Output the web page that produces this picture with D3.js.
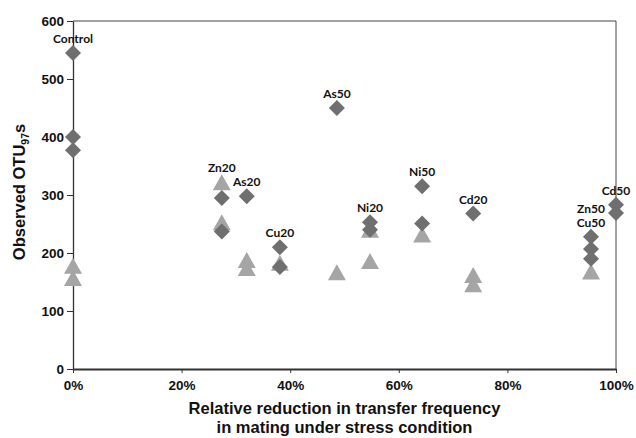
<!DOCTYPE html>
<html>
<head>
<meta charset="utf-8">
<script src="https://cdn.jsdelivr.net/npm/d3@7"></script>
<style>
  body { margin: 0; background: #fff; }
  svg { display: block; }
  .tick text { font-family: "Liberation Sans", Arial, sans-serif; font-weight: bold; font-size: 13.5px; fill: #111; }
  .tag { font-family: Lato, "Open Sans", sans-serif; font-weight: bold; font-size: 12px; fill: #111; }
  .title { font-family: "Liberation Sans", Arial, sans-serif; font-weight: bold; font-size: 16.5px; fill: #111; }
</style>
</head>
<body>
<div id="chart"></div>
<script>
// relative reduction (fraction) and observed OTU97s
var diamondX = [0, 0, 0, 0.274, 0.274, 0.32, 0.381, 0.381, 0.486, 0.547, 0.547, 0.643, 0.643, 0.737, 0.954, 0.954, 0.954, 1.0, 1.0];
var diamondY = [545, 400, 377, 295, 237, 298, 210, 176, 450, 253, 240, 315, 251, 268, 228, 207, 190, 283, 269];

var triangleX = [0, 0, 0.274, 0.274, 0.32, 0.32, 0.381, 0.486, 0.547, 0.547, 0.643, 0.737, 0.737, 0.954];
var triangleY = [178, 157, 322, 253, 188, 174, 183, 167, 240, 186, 232, 162, 146, 168];

var labelNames = ["Control", "Zn20", "As20", "Cu20", "As50", "Ni20", "Ni50", "Cd20", "Zn50", "Cu50", "Cd50"];
var labelX = [0, 0.274, 0.32, 0.381, 0.486, 0.547, 0.643, 0.737, 0.954, 0.954, 1.0];
var labelLine = [0, 0, 0, 0, 0, 0, 0, 0, 1, 0, 0];

var xTicks = [0, 0.2, 0.4, 0.6, 0.8, 1.0];
var yTicks = [0, 100, 200, 300, 400, 500, 600];

var width = 636, height = 438;
var margin = {top: 21, right: 20, bottom: 69, left: 73};
var w = width - margin.left - margin.right;
var h = height - margin.top - margin.bottom;

var svg = d3.select("#chart").append("svg")
    .attr("width", width)
    .attr("height", height);

var g = svg.append("g")
    .attr("transform", "translate(" + margin.left + "," + margin.top + ")");

var x = d3.scaleLinear().domain([0, 1]).range([0, w]);
var y = d3.scaleLinear().domain([0, 600]).range([h, 0]);

// frame top / right
g.append("line").attr("x1", 0).attr("x2", w).attr("y1", 0).attr("y2", 0)
    .style("stroke", "#444").style("stroke-width", 1);
g.append("line").attr("x1", w).attr("x2", w).attr("y1", 0).attr("y2", h)
    .style("stroke", "#444").style("stroke-width", 1);

var xAxis = g.append("g")
    .attr("transform", "translate(0," + h + ")")
    .call(d3.axisBottom(x).tickValues(xTicks).tickFormat(d3.format(".0%")).tickSizeInner(4).tickSizeOuter(0).tickPadding(7));

var yAxis = g.append("g")
    .call(d3.axisLeft(y).tickValues(yTicks).tickSizeInner(6).tickSizeOuter(0).tickPadding(3));

xAxis.select(".domain").style("stroke", "#333").style("stroke-width", 2);
yAxis.select(".domain").style("stroke", "#333").style("stroke-width", 1.3);
g.selectAll(".tick line").style("stroke", "#333");

// triangles (behind)
var triPath = "M0,-8L9,8L-9,8Z";
g.selectAll("path.tri")
    .data(triangleX)
    .enter()
    .append("path")
    .attr("class", "tri")
    .attr("d", triPath)
    .attr("transform", function(d, i){
        return "translate(" + x(d) + "," + y(triangleY[i]) + ")";
    })
    .style("fill", "#a5a5a5");

// diamonds
var diaPath = "M0,-8L8,0L0,8L-8,0Z";
g.selectAll("path.dia")
    .data(diamondX)
    .enter()
    .append("path")
    .attr("class", "dia")
    .attr("d", diaPath)
    .attr("transform", function(d, i){
        return "translate(" + x(d) + "," + y(diamondY[i]) + ")";
    })
    .style("fill", "#6f6f6f");

// labels sit above the highest mark at that x
function topValue(xv){
    var vals = [];
    diamondX.forEach(function(d, i){ if (d === xv) vals.push(diamondY[i]); });
    triangleX.forEach(function(d, i){ if (d === xv) vals.push(triangleY[i]); });
    return d3.max(vals);
}

g.selectAll("text.tag")
    .data(labelNames)
    .enter()
    .append("text")
    .attr("class", "tag")
    .attr("text-anchor", "middle")
    .attr("x", function(d, i){ return x(labelX[i]); })
    .attr("y", function(d, i){ return y(topValue(labelX[i])) - 10 - labelLine[i] * 14; })
    .text(function(d){ return d; });

// axis titles
var xt = svg.append("text")
    .attr("class", "title")
    .attr("text-anchor", "middle")
    .attr("x", margin.left + w / 2)
    .attr("y", 414);
xt.append("tspan").attr("x", margin.left + w / 2).text("Relative reduction in transfer frequency");
xt.append("tspan").attr("x", margin.left + w / 2).attr("dy", 19).text("in mating under stress condition");

var yt = svg.append("text")
    .attr("class", "title")
    .attr("text-anchor", "middle")
    .attr("transform", "translate(25," + 192 + ") rotate(-90)");
yt.append("tspan").text("Observed OTU");
yt.append("tspan").attr("font-size", "10.5px").attr("dy", 4).text("97");
yt.append("tspan").attr("dy", -4).text("s");
</script>
</body>
</html>
